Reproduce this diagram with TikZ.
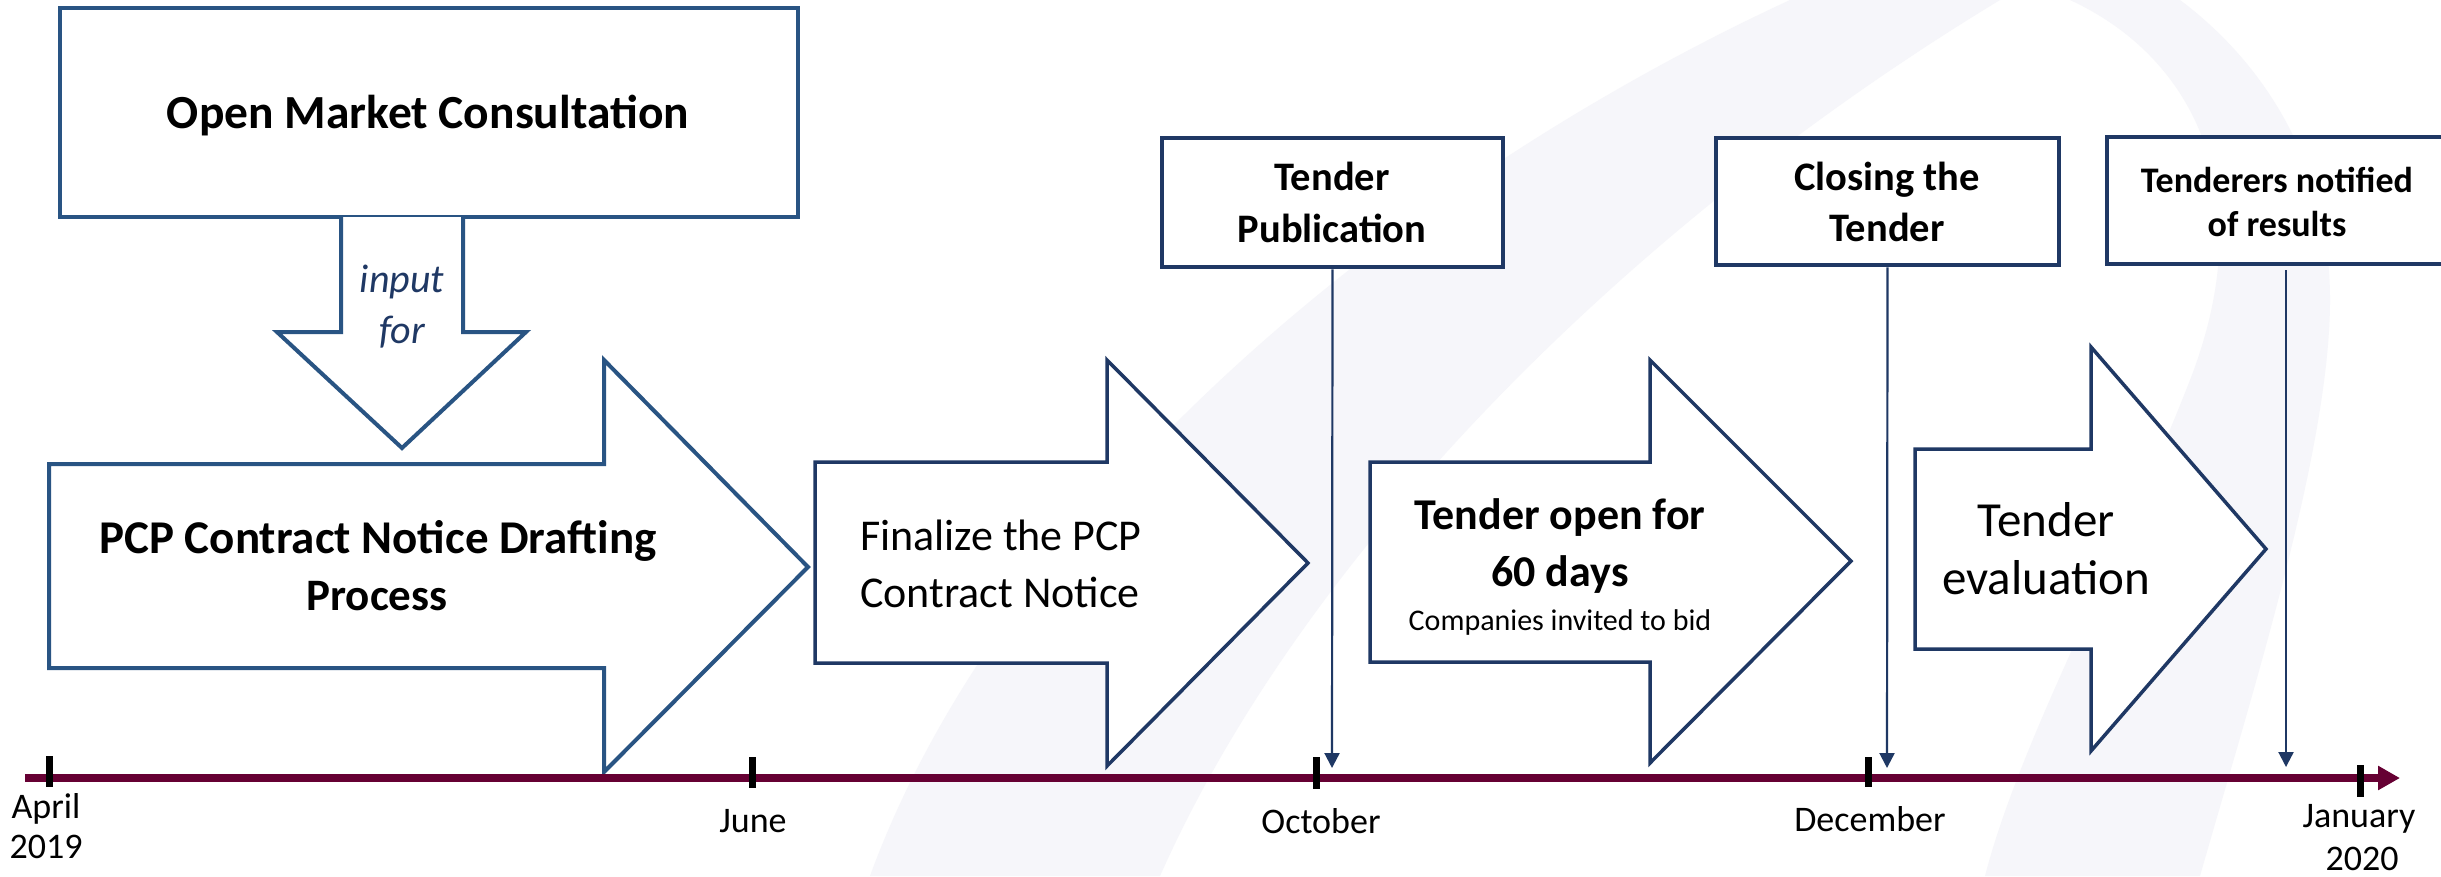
\documentclass[tikz,border=0pt]{standalone}
\usepackage{fontspec}
\setmainfont{Carlito}
\usetikzlibrary{arrows.meta}
\definecolor{steel}{RGB}{41,84,131}
\definecolor{navy}{RGB}{31,56,100}
\definecolor{tlred}{RGB}{102,0,51}
\definecolor{wmark}{RGB}{246,246,250}
\begin{document}
\begin{tikzpicture}[x=1pt,y=-1pt,
  txt/.style={inner sep=0pt, anchor=base},
  bigbold/.style={txt, font=\fontsize{47.5}{52}\selectfont\bfseries},
  arrbold/.style={txt, font=\fontsize{44}{50}\selectfont\bfseries},
  arrreg/.style={txt, font=\fontsize{44}{50}\selectfont},
  evalreg/.style={txt, font=\fontsize{49}{54}\selectfont},
  boxbold/.style={txt, font=\fontsize{40.5}{46}\selectfont\bfseries},
  smallbold/.style={txt, font=\fontsize{36}{42}\selectfont\bfseries},
  subtxt/.style={txt, font=\fontsize{30}{34}\selectfont},
  month/.style={txt, font=\fontsize{36}{40}\selectfont},
  inputtxt/.style={txt, font=\fontsize{40}{46}\selectfont\itshape, text=navy},
  outlineA/.style={draw=steel, line width=4pt, fill=white, line join=miter},
  outlineB/.style={draw=navy, line width=3.5pt, fill=white, line join=miter},
  eventbox/.style={draw=navy, line width=4.5pt, fill=white, inner sep=0pt},
  conn/.style={draw=navy, line width=2.2pt, -{Triangle[length=15pt,width=15pt]}},
  timeline/.style={draw=tlred, line width=8pt, -{Triangle[length=22pt,width=23pt]}},
  tick/.style={draw=black, line width=7pt}
]
\useasboundingbox (0,0) rectangle (2441,876);
\fill[white] (0,0) rectangle (2441,876);
% faint watermark
\fill[wmark] (870,876) .. controls (1000,520) and (1380,190) .. (1790,0) -- (2000,0)
  .. controls (1620,230) and (1300,560) .. (1160,876) -- cycle;
\fill[wmark] (2070,0) .. controls (2200,60) and (2260,200) .. (2190,380)
  .. controls (2120,560) and (2020,740) .. (1985,876) -- (2200,876)
  .. controls (2250,700) and (2330,450) .. (2330,300)
  .. controls (2330,160) and (2260,60) .. (2180,0) -- cycle;

% Open market consultation
\node[draw=steel, line width=3.5pt, fill=white, inner sep=0pt, minimum width=738pt, minimum height=209pt] (omc) at (429,112.5) {};
\node[bigbold] (omct) at (428,128) {Open Market Consultation};
\draw[outlineA] (341,217) -- (341,332) -- (277,332) -- (402,448) -- (526,332) -- (463,332) -- (463,217);
\node[inputtxt] (in1) at (402,292) {input};
\node[inputtxt] (in2) at (402,343) {for};

% process arrows
\draw[outlineA] (49,464) -- (604,464) -- (604,360) -- (808,567) -- (604,772) -- (604,668) -- (49,668) -- cycle;
\node[arrbold, font=\fontsize{47}{52}\selectfont\bfseries] (p1) at (378,553) {PCP Contract Notice Drafting};
\node[arrbold, font=\fontsize{45}{52}\selectfont\bfseries] (p2) at (377,610) {Process};

\draw[outlineB] (815,462) -- (1107,462) -- (1107,360) -- (1308,563) -- (1107,766) -- (1107,663) -- (815,663) -- cycle;
\node[arrreg, anchor=base west] (f1) at (860,550) {Finalize the PCP};
\node[arrreg, anchor=base west] (f2) at (860,607) {Contract Notice};

\draw[outlineB] (1370,462) -- (1650,462) -- (1650,360) -- (1851,561) -- (1650,763) -- (1650,662) -- (1370,662) -- cycle;
\node[arrbold] (o1) at (1560,529) {Tender open for};
\node[arrbold] (o2) at (1560,586) {60 days};
\node[subtxt] (o3) at (1560,630) {Companies invited to bid};

\draw[outlineB] (1915,449) -- (2091,449) -- (2091,347) -- (2266,549) -- (2091,751) -- (2091,649) -- (1915,649) -- cycle;
\node[evalreg] (e1) at (2046,536) {Tender};
\node[evalreg] (e2) at (2046,594) {evaluation};

% event boxes
\node[eventbox, minimum width=341pt, minimum height=129pt] (pub) at (1332.5,202.5) {};
\node[boxbold] (pub1) at (1332,190) {Tender};
\node[boxbold] (pub2) at (1332,242) {Publication};

\node[eventbox, minimum width=343pt, minimum height=127pt] (clo) at (1887.5,201.5) {};
\node[boxbold] (clo1) at (1887,190) {Closing the};
\node[boxbold] (clo2) at (1887,241) {Tender};

\node[eventbox, minimum width=363pt, minimum height=127pt] (ten) at (2288.5,200.5) {};
\node[smallbold] (ten1) at (2277,192) {Tenderers notified};
\node[smallbold] (ten2) at (2277,236) {of results};

% timeline
\coordinate (tl0) at (25,778);
\coordinate (tl1) at (2400,778);
\draw[timeline] (tl0) -- (tl1);
\draw[tick] (49,756) -- (49,787);
\draw[tick] (752,757) -- (752,788);
\draw[tick] (1316,757) -- (1316,789);
\draw[tick] (1868,757) -- (1868,787);
\draw[tick] (2360,765) -- (2360,797);

% connectors
\coordinate (pubend) at (1332,768);
\coordinate (cloend) at (1887,768);
\coordinate (tenstart) at (2286,270);
\coordinate (tenend) at (2286,767);
\draw[conn] (pub.south) -- (pubend);
\draw[conn] (clo.south) -- (cloend);
\draw[conn] (tenstart) -- (tenend);

% month labels
\node[month] (m1a) at (46,818) {April};
\node[month] (m1b) at (46,858) {2019};
\node[month] (m2) at (753,832) {June};
\node[month] (m3) at (1321,833) {October};
\node[month] (m4) at (1870,831) {December};
\node[month] (m5a) at (2359,827) {January};
\node[month] (m5b) at (2362,870) {2020};
\end{tikzpicture}
\end{document}
